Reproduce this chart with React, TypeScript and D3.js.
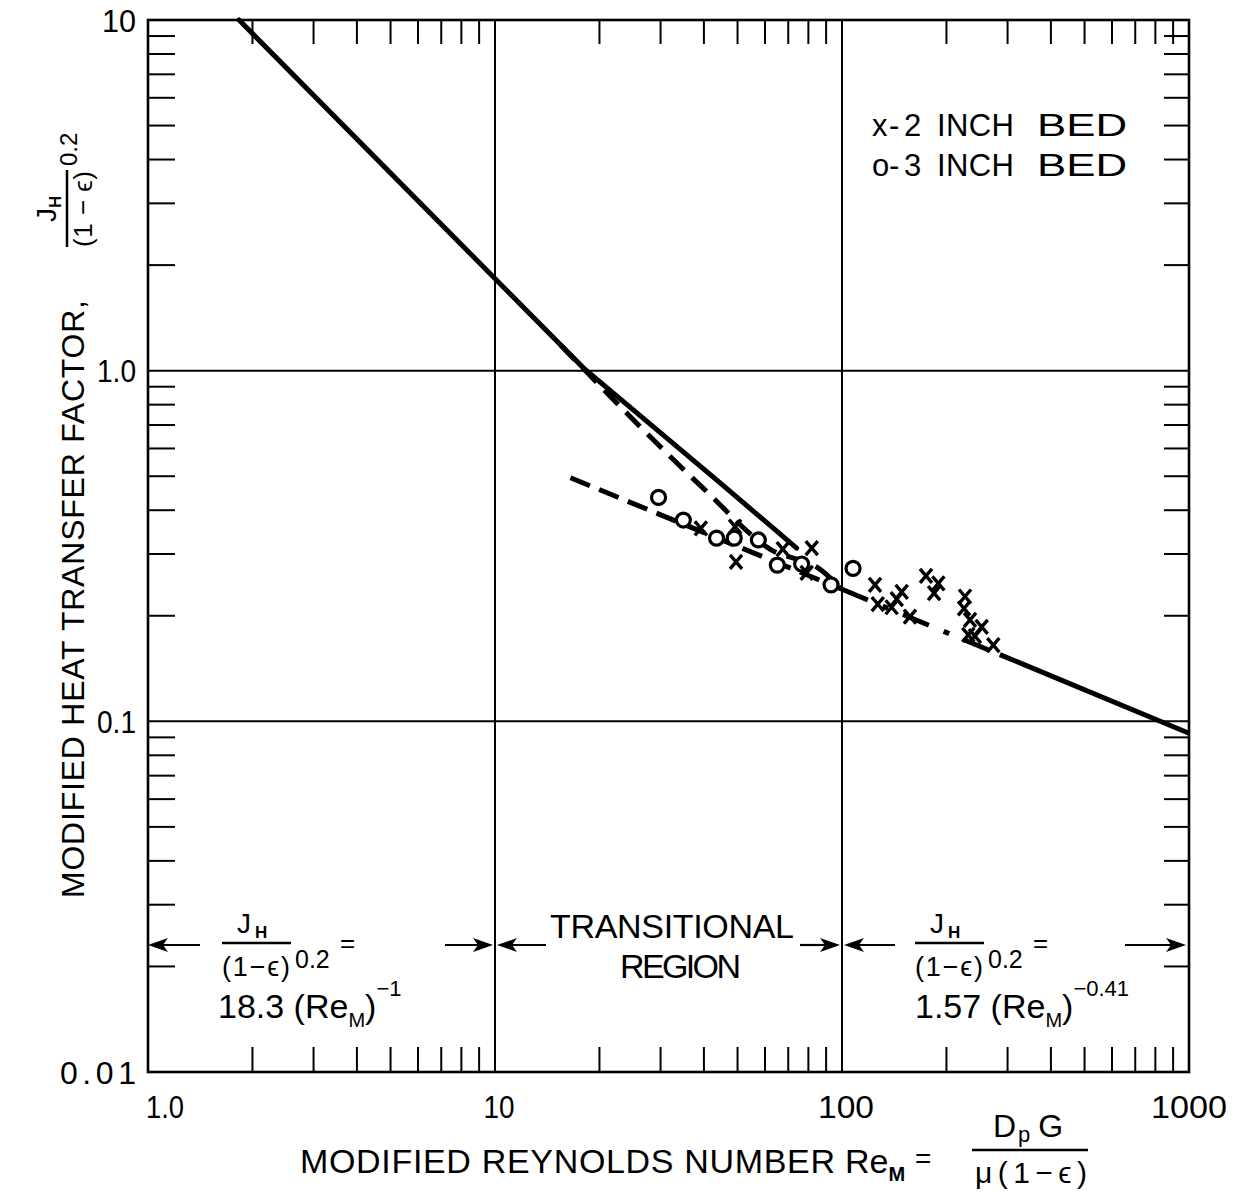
import React from "react";
import * as d3 from "d3";

// ---------- data ----------
const reTicks = [1, 10, 100, 1000];
const reTickLabels = ["1.0", "10", "100", "1000"];
const jTicks = [0.01, 0.1, 1, 10];
const jTickLabels = ["0.01", "0.1", "1.0", "10"];

// solid correlation line at low Re (Re_M, J_H/(1-e)^0.2)
const laminarCurve: [number, number][] = [
  [1.83, 10],
  [18, 1.017],
  [43.5, 0.488],
  [74, 0.312],
];
// dashed transitional curve
const transitionCurve: [number, number][] = [
  [15.5, 1.18],
  [40, 0.46],
  [62, 0.31],
  [87, 0.27],
  [100, 0.238],
];
// dashed extension of the turbulent correlation
const lowReExtension: [number, number][] = [
  [16.5, 0.495],
  [100, 0.238],
];
const turbulentDashDot: [number, number][] = [
  [100, 0.238],
  [285, 0.155],
];
const turbulentSolid: [number, number][] = [
  [285, 0.155],
  [1000, 0.0925],
];

// x - 2 inch bed
const bed2Inch: [number, number][] = [
  [39.2, 0.355], [49.2, 0.359], [49.5, 0.285], [67.5, 0.31], [81.8, 0.312],
  [79.1, 0.265], [124.5, 0.245], [126.8, 0.216], [139, 0.2115], [143.8, 0.223],
  [148.6, 0.234], [157, 0.199], [174.6, 0.26], [184.2, 0.232], [189.5, 0.2475],
  [226.2, 0.227], [224.7, 0.21], [233.8, 0.1946], [231.2, 0.1764], [241.6, 0.175],
  [252.7, 0.186], [272.9, 0.165],
];
// o - 3 inch bed
const bed3Inch: [number, number][] = [
  [29.6, 0.435], [34.9, 0.375], [43.5, 0.333], [48.9, 0.333], [57.4, 0.329],
  [65.1, 0.279], [76.5, 0.281], [93.0, 0.245], [107.6, 0.273],
];

const legendSymbols = ["x", "o"];
const legendNumbers = ["2", "3"];

// ---------- layout ----------
const W = 1241;
const H = 1195;
const L = 148, R = 1189, T = 20, B = 1072;
const FONT = "'Liberation Sans', Arial, sans-serif";

const x = d3.scaleLog().domain([1, 1000]).range([L, R]);
const y = d3.scaleLog().domain([0.01, 10]).range([B, T]);

const line = d3
  .line<[number, number]>()
  .x((d) => x(d[0]))
  .y((d) => y(d[1]));
const smooth = d3
  .line<[number, number]>()
  .x((d) => x(d[0]))
  .y((d) => y(d[1]))
  .curve(d3.curveMonotoneX);

const isDecade = (v: number) => Math.abs(Math.log10(v) - Math.round(Math.log10(v))) < 1e-9;
const xMinor = x.ticks().filter((v) => !isDecade(v));
const yMinor = y.ticks().filter((v) => !isDecade(v));

// label widths in px (styling)
const yLabelWidth = (s: string) => (s.length === 4 ? 76 : s.length === 3 ? 39 : 34);
const xLabelWidth = (s: string) => (s.length === 4 ? 76 : s.length === 3 ? (s.includes(".") ? 38 : 56) : 31);

function Arrow({ x1, x2, yy }: { x1: number; x2: number; yy: number }) {
  // arrow from x1 (tail) to x2 (tip)
  const dir = x2 > x1 ? 1 : -1;
  const hl = 20;
  const hw = 7;
  const head = `M${x2},${yy} L${x2 - dir * hl},${yy - hw} L${x2 - dir * (hl - 5)},${yy} L${x2 - dir * hl},${yy + hw} Z`;
  return (
    <g>
      <line x1={x1} x2={x2 - dir * 8} y1={yy} y2={yy} stroke="#000" strokeWidth={2.2} />
      <path d={head} fill="#000" />
    </g>
  );
}

function Fraction({ x0, yy }: { x0: number; yy: number }) {
  // J_H / (1-e)^0.2 =
  return (
    <g fontFamily={FONT} fill="#000">
      <text x={x0 + 15} y={yy - 10} fontSize={28}>
        J
      </text>
      <text x={x0 + 33} y={yy - 5} fontSize={17} fontWeight="bold">
        H
      </text>
      <line x1={x0} x2={x0 + 69} y1={yy} y2={yy} stroke="#000" strokeWidth={2.5} />
      <text x={x0} y={yy + 33} fontSize={27} textLength={68} lengthAdjust="spacing">
        (1−ϵ)
      </text>
      <text x={x0 + 73} y={yy + 25} fontSize={25}>
        0.2
      </text>
      <text x={x0 + 118} y={yy + 9} fontSize={26}>
        =
      </text>
    </g>
  );
}

export default function App() {
  return (
    <svg
      width={W}
      height={H}
      style={{ display: "block", background: "#fff", position: "absolute", left: 0, top: 0 }}
    >
      <rect width={W} height={H} fill="#fff" />
      {/* grid lines at decades */}
      {[10, 100].map((v) => (
        <line key={"gx" + v} x1={x(v)} x2={x(v)} y1={T} y2={B} stroke="#000" strokeWidth={2} />
      ))}
      {[0.1, 1].map((v) => (
        <line key={"gy" + v} x1={L} x2={R} y1={y(v)} y2={y(v)} stroke="#000" strokeWidth={2} />
      ))}
      {/* minor ticks */}
      {xMinor.map((v) => (
        <g key={"xt" + v}>
          <line x1={x(v)} x2={x(v)} y1={B} y2={B - 25} stroke="#000" strokeWidth={2} />
          <line x1={x(v)} x2={x(v)} y1={T} y2={T + 24} stroke="#000" strokeWidth={2} />
        </g>
      ))}
      {yMinor.map((v) => (
        <g key={"yt" + v}>
          <line x1={L} x2={L + 27} y1={y(v)} y2={y(v)} stroke="#000" strokeWidth={2} />
          <line x1={R} x2={R - 25} y1={y(v)} y2={y(v)} stroke="#000" strokeWidth={2} />
        </g>
      ))}
      <rect x={L} y={T} width={R - L} height={B - T} fill="none" stroke="#000" strokeWidth={2.6} />

      {/* tick labels */}
      {jTicks.map((v, i) => (
        <text
          key={"yl" + v}
          x={136 - yLabelWidth(jTickLabels[i])}
          y={y(v)}
          dy="0.36em"
          fontFamily={FONT}
          fontSize={32}
          textLength={yLabelWidth(jTickLabels[i])}
          lengthAdjust={jTickLabels[i].length === 4 ? "spacing" : "spacingAndGlyphs"}
        >
          {jTickLabels[i]}
        </text>
      ))}
      {reTicks.map((v, i) => {
        const w = xLabelWidth(reTickLabels[i]);
        const cx = i === 0 ? x(v) + 17 : i === 3 ? x(v) : x(v) + 4;
        return (
          <text
            key={"xl" + v}
            x={cx - w / 2}
            y={1118}
            fontFamily={FONT}
            fontSize={32}
            textLength={w}
            lengthAdjust="spacingAndGlyphs"
          >
            {reTickLabels[i]}
          </text>
        );
      })}

      {/* correlation lines */}
      <path d={line(laminarCurve) || ""} fill="none" stroke="#000" strokeWidth={5} strokeLinecap="round" />
      <path
        d={smooth(transitionCurve) || ""}
        fill="none"
        stroke="#000"
        strokeWidth={5}
        strokeDasharray="20 11"
      />
      <path d={line(lowReExtension) || ""} fill="none" stroke="#000" strokeWidth={5} strokeDasharray="21 10" />
      <path
        d={line(turbulentDashDot) || ""}
        fill="none"
        stroke="#000"
        strokeWidth={5}
        strokeDasharray="28 16 6 16"
      />
      <path d={line(turbulentSolid) || ""} fill="none" stroke="#000" strokeWidth={5} />

      {/* data markers */}
      {bed3Inch.map((d, i) => (
        <circle
          key={"o" + i}
          cx={x(d[0])}
          cy={y(d[1])}
          r={7}
          fill="#fff"
          stroke="#000"
          strokeWidth={3.2}
        />
      ))}
      {bed2Inch.map((d, i) => {
        const cx = x(d[0]);
        const cy = y(d[1]);
        const sx = 6;
        const sy = 7;
        return (
          <path
            key={"x" + i}
            d={`M${cx - sx},${cy - sy} L${cx + sx},${cy + sy} M${cx + sx},${cy - sy} L${cx - sx},${cy + sy}`}
            stroke="#000"
            strokeWidth={3.4}
            fill="none"
          />
        );
      })}

      {/* legend */}
      {legendSymbols.map((s, i) => {
        const by = 136 + i * 40;
        return (
          <g key={"lg" + i} fontFamily={FONT} fontSize={31}>
            <text x={872} y={by}>
              {s}
            </text>
            <text x={889} y={by}>
              -
            </text>
            <text x={904} y={by}>
              {legendNumbers[i]}
            </text>
            <text x={937} y={by} textLength={77} lengthAdjust="spacing">
              INCH
            </text>
            <text x={1037} y={by} textLength={90} lengthAdjust="spacingAndGlyphs">
              BED
            </text>
          </g>
        );
      })}

      {/* bottom annotations */}
      <Arrow x1={200} x2={L} yy={945} />
      <Arrow x1={445} x2={493} yy={945} />
      <Fraction x0={222} yy={943} />
      <text x={218} y={1018} fontFamily={FONT} fontSize={34}>
        18.3 (Re
        <tspan fontSize={20} dy={9}>M</tspan>
        <tspan dy={-9}>)</tspan>
        <tspan fontSize={22} dy={-22}>−1</tspan>
      </text>

      <Arrow x1={546} x2={497} yy={945} />
      <Arrow x1={800} x2={840} yy={945} />
      <text x={550} y={938} fontFamily={FONT} fontSize={34} textLength={244} lengthAdjust="spacing">
        TRANSITIONAL
      </text>
      <text x={620} y={978} fontFamily={FONT} fontSize={34} textLength={121} lengthAdjust="spacing">
        REGION
      </text>

      <Arrow x1={895} x2={844} yy={945} />
      <Arrow x1={1125} x2={1186} yy={945} />
      <Fraction x0={915} yy={943} />
      <text x={915} y={1018} fontFamily={FONT} fontSize={34}>
        1.57 (Re
        <tspan fontSize={20} dy={9}>M</tspan>
        <tspan dy={-9}>)</tspan>
        <tspan fontSize={22} dy={-22}>−0.41</tspan>
      </text>

      {/* x axis title */}
      <text x={300} y={1173} fontFamily={FONT} fontSize={34} textLength={535} lengthAdjust="spacing">
        MODIFIED REYNOLDS NUMBER
      </text>
      <text x={845} y={1173} fontFamily={FONT} fontSize={34}>
        Re
        <tspan fontSize={20} dy={8} fontWeight="bold">M</tspan>
      </text>
      <text x={915} y={1168} fontFamily={FONT} fontSize={28}>
        =
      </text>
      <line x1={972} x2={1088} y1={1150} y2={1150} stroke="#000" strokeWidth={2.5} />
      <text x={993} y={1137} fontFamily={FONT} fontSize={32}>
        D
        <tspan fontSize={22} dy={5} dx={2}>p</tspan>
        <tspan dy={-5} dx={8}>G</tspan>
      </text>
      <text x={975} y={1183} fontFamily={FONT} fontSize={30} textLength={112} lengthAdjust="spacing">
        μ(1−ϵ)
      </text>

      {/* y axis title */}
      <g transform="translate(84,0) rotate(-90)">
        <text x={-898} y={0} fontFamily={FONT} fontSize={32} textLength={598} lengthAdjust="spacing">
          MODIFIED HEAT TRANSFER FACTOR,
        </text>
        <text x={-222} y={-28} fontFamily={FONT} fontSize={28}>
          J
          <tspan fontSize={17} dy={5} fontWeight="bold">H</tspan>
        </text>
        <line x1={-247} x2={-170} y1={-17} y2={-17} stroke="#000" strokeWidth={2.5} />
        <text x={-247} y={8} fontFamily={FONT} fontSize={26} textLength={76} lengthAdjust="spacing">
          (1 − ϵ)
        </text>
        <text x={-166} y={-7} fontFamily={FONT} fontSize={24}>
          0.2
        </text>
      </g>
    </svg>
  );
}
